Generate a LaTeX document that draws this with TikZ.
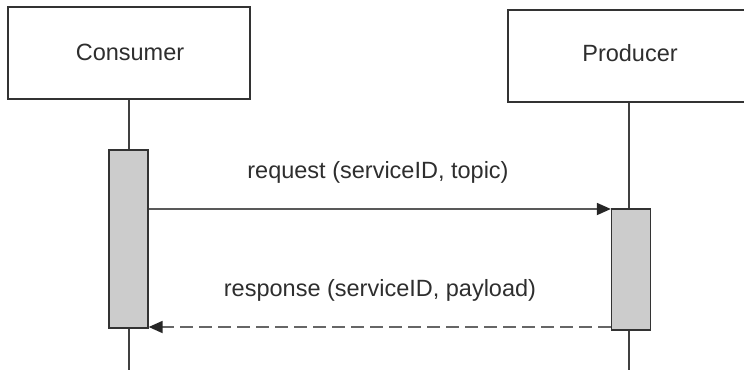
\documentclass[tikz,border=0pt]{standalone}
\usepackage{fontspec}
\setmainfont{Liberation Sans}
\usetikzlibrary{arrows.meta}
\definecolor{txt}{HTML}{2E2E2E}
\definecolor{edge}{HTML}{333333}
\definecolor{actfill}{HTML}{CCCCCC}
\tikzset{
  every node/.style={font=\fontsize{23.5}{27}\selectfont, text=txt},
  actor/.style={draw=edge, line width=1.3pt, fill=white, minimum width=242pt, minimum height=92pt, inner sep=0pt},
  activation/.style={draw=edge, line width=1.3pt, fill=actfill, minimum width=39pt, inner sep=0pt},
  lifeline/.style={draw=black!75, line width=1.3pt},
  msg/.style={draw=black!65, line width=1.8pt, -{Triangle[length=14pt,width=12pt,color=black!85]}},
  reply/.style={draw=black!60, line width=1.8pt, dash pattern=on 13pt off 6pt, -{Triangle[length=14pt,width=12pt,color=black!85]}},
}
\begin{document}
\begin{tikzpicture}[x=1pt,y=-1pt]
\useasboundingbox (0,0) rectangle (744,370);
\clip (0,0) rectangle (744,370);
% actors
\node[actor] (cons) at (129,53) {};
\node at (130,52) {Consumer};
\node[actor] (prod) at (629,56) {};
\node at (630,53) {Producer};
% lifeline ends
\coordinate (consEnd) at (129,370);
\coordinate (prodEnd) at (629,370);
\draw[lifeline] (cons.south) -- (consEnd);
\draw[lifeline] (prod.south) -- (prodEnd);
% activations
\node[activation, minimum height=178pt] (ca) at (128.5,239) {};
\node[activation, minimum height=121pt] (pa) at (631,269.5) {};
% messages
\draw[msg] (ca.east |- 0,209) -- (pa.west |- 0,209);
\node (req) at (378,172) {request (serviceID, topic)};
\draw[reply] (pa.west |- 0,327) -- (ca.east |- 0,327);
\node (resp) at (380,290) {response (serviceID, payload)};
\end{tikzpicture}
\end{document}
